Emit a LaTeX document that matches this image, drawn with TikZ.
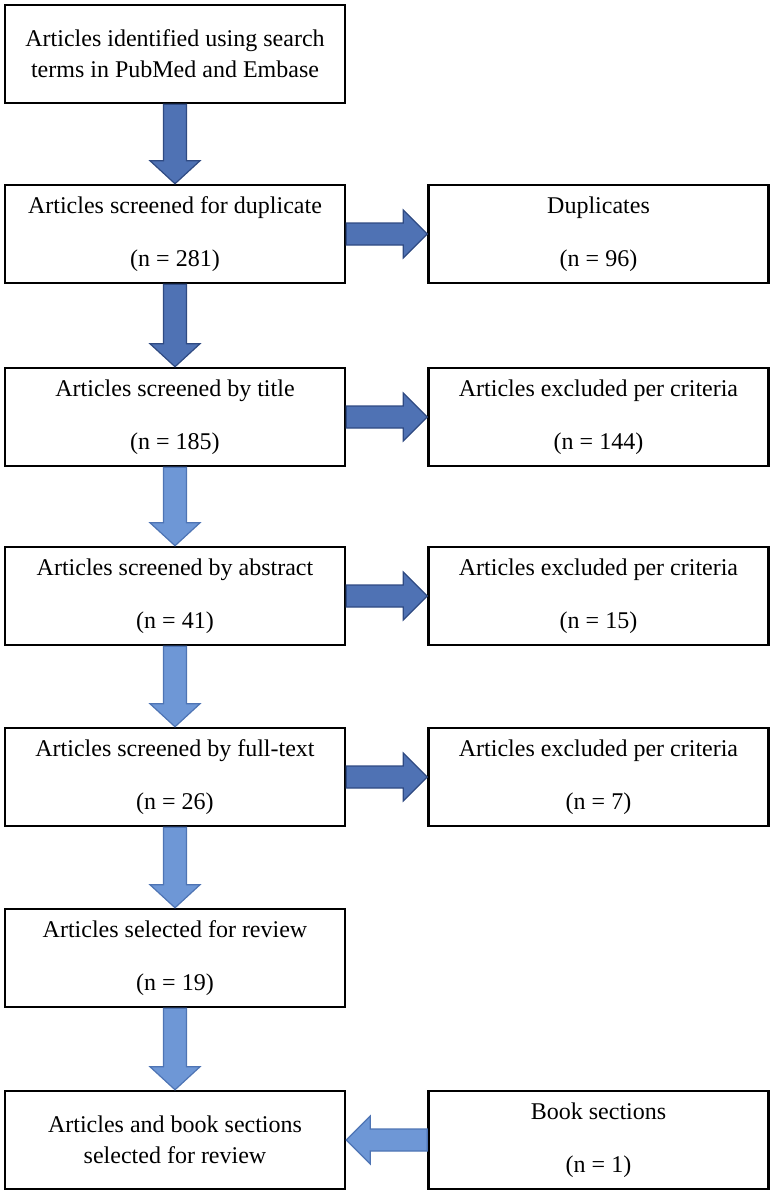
\documentclass[tikz,border=0pt]{standalone}
\usepackage{fontspec}
\setmainfont{Liberation Serif}
\usetikzlibrary{calc}
\definecolor{darkfill}{RGB}{79,114,180}
\definecolor{darkline}{RGB}{47,74,130}
\definecolor{lightfill}{RGB}{110,151,214}
\definecolor{lightline}{RGB}{78,116,180}
\newcommand{\gap}{\\[24pt]}

\begin{document}
\begin{tikzpicture}[x=1pt, y=-1pt, every node/.style={font=\fontsize{24}{29}\selectfont}]
        \pgfdeclarelayer{nodelayer}
        \pgfdeclarelayer{edgelayer}
        \pgfsetlayers{nodelayer,edgelayer,main}
        \tikzstyle{box}=[draw, line width=2.5pt, fill=white, align=center, minimum width=340, minimum height=98, inner sep=0pt]
        \tikzstyle{down arrow}=[to path={
            ($(\tikztostart)+(-11.5,0)$) -- ($(\tikztotarget)+(-11.5,-23)$) -- ($(\tikztotarget)+(-25,-23)$)
            -- (\tikztotarget) -- ($(\tikztotarget)+(25,-23)$) -- ($(\tikztotarget)+(11.5,-23)$)
            -- ($(\tikztostart)+(11.5,0)$) -- cycle}]
        \tikzstyle{side arrow}=[to path={
            ($(\tikztostart)+(0,-11)$) -- ($(\tikztotarget)+({-24*(#1)},-11)$) -- ($(\tikztotarget)+({-24*(#1)},-24)$)
            -- (\tikztotarget) -- ($(\tikztotarget)+({-24*(#1)},24)$) -- ($(\tikztotarget)+({-24*(#1)},11)$)
            -- ($(\tikztostart)+(0,11)$) -- cycle}]
        \tikzstyle{dark}=[fill=darkfill, draw=darkline, line width=1.2pt, line join=miter]
        \tikzstyle{light}=[fill=lightfill, draw=lightline, line width=1.2pt, line join=miter]
        \useasboundingbox (0,0) rectangle (773,1193);
        \begin{pgfonlayer}{nodelayer}
            % left column
            \node [style=box] (ident) at (175, 54) {Articles identified using search\\[2pt]terms in PubMed and Embase};
            \node [style=box] (dup) at (175, 234) {Articles screened for duplicate\gap(n = 281)};
            \node [style=box] (bytitle) at (175, 417) {Articles screened by title\gap(n = 185)};
            \node [style=box] (byabstract) at (175, 596) {Articles screened by abstract\gap(n = 41)};
            \node [style=box] (byfull) at (175, 777) {Articles screened by full-text\gap(n = 26)};
            \node [style=box] (selected) at (175, 958) {Articles selected for review\gap(n = 19)};
            \node [style=box] (final) at (175, 1140) {Articles and book sections\\[2pt]selected for review};
            % right column
            \node [style=box] (duplicates) at (598.5, 234) {Duplicates\gap(n = 96)};
            \node [style=box] (extitle) at (598.5, 417) {Articles excluded per criteria\gap(n = 144)};
            \node [style=box] (exabstract) at (598.5, 596) {Articles excluded per criteria\gap(n = 15)};
            \node [style=box] (exfull) at (598.5, 777) {Articles excluded per criteria\gap(n = 7)};
            \node [style=box] (book) at (598.5, 1140) {Book sections\gap(n = 1)};
        \end{pgfonlayer}
        \begin{pgfonlayer}{edgelayer}
            \draw [style=dark, style=down arrow] (ident.south) to (dup.north);
            \draw [style=dark, style=down arrow] (dup.south) to (bytitle.north);
            \draw [style=light, style=down arrow] (bytitle.south) to (byabstract.north);
            \draw [style=light, style=down arrow] (byabstract.south) to (byfull.north);
            \draw [style=light, style=down arrow] (byfull.south) to (selected.north);
            \draw [style=light, style=down arrow] (selected.south) to (final.north);

            \draw [style=dark, side arrow=1] (dup.east) to (duplicates.west);
            \draw [style=dark, side arrow=1] (bytitle.east) to (extitle.west);
            \draw [style=dark, side arrow=1] (byabstract.east) to (exabstract.west);
            \draw [style=dark, side arrow=1] (byfull.east) to (exfull.west);
            \draw [style=light, side arrow=-1] (book.west) to (final.east);
        \end{pgfonlayer}
    \end{tikzpicture}
\end{document}
